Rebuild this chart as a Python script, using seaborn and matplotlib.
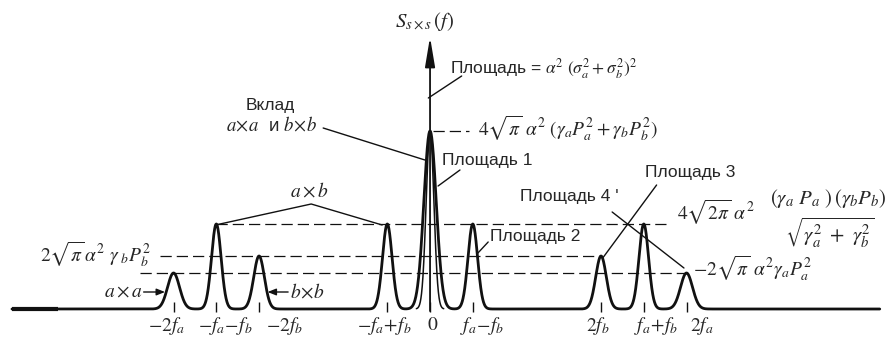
import numpy as np
import matplotlib
matplotlib.use("Agg")
import matplotlib.pyplot as plt
import seaborn as sns

sns.set_theme(style="white")
plt.rcParams["font.family"] = ["Liberation Sans", "DejaVu Sans"]
plt.rcParams["mathtext.fontset"] = "stix"

# carrier frequencies (arbitrary units)
fa, fb = 1.5, 1.0

# spectral lines of the squared signal: centre, peak height, Gaussian width
line_names = ["-2fa", "-fa-fb", "-2fb", "-fa+fb", "fa-fb", "2fb", "fa+fb", "2fa"]
line_centres = [-2 * fa, -fa - fb, -2 * fb, -fa + fb, fa - fb, 2 * fb, fa + fb, 2 * fa]
line_heights = [0.36, 0.85, 0.53, 0.85, 0.85, 0.53, 0.85, 0.36]
line_widths = [0.070, 0.056, 0.062, 0.056, 0.056, 0.062, 0.056, 0.070]

# component at zero frequency (a x a and b x b together)
dc_height = 1.78
dc_width_outer = 0.072
dc_width_inner = 0.045

# reference levels
h_aa, h_bb, h_ab = 0.36, 0.53, 0.85

# frequency-axis labels and their positions
tick_labels = [r"$-2f_a$", r"$-f_a\!-\!f_b$", r"$-2f_b$", r"$-f_a\!+\!f_b$", r"$0$",
               r"$f_a\!-\!f_b$", r"$2f_b$", r"$f_a\!+\!f_b$", r"$2f_a$"]
tick_label_x = [-3.08, -2.40, -1.70, -0.53, 0.03, 0.61, 1.96, 2.65, 3.18]

f = np.linspace(-4.89, 5.26, 6000)


def gauss(x, c, h, w):
    return h * np.exp(-0.5 * ((x - c) / w) ** 2)


S = gauss(f, 0.0, dc_height, dc_width_outer)
for c, h, w in zip(line_centres, line_heights, line_widths):
    S = S + gauss(f, c, h, w)

fig = plt.figure(figsize=(8.9, 3.37), dpi=100)
ax = fig.add_axes([0, 0, 1, 1])
ax.set_xlim(-5.03, 5.38)
ax.set_ylim(-0.28, 3.09)
ax.axis("off")

ink = "#111111"

# spectrum curve
sns.lineplot(x=f, y=S, ax=ax, color=ink, lw=2.0, estimator=None, sort=False)
# thicker start of the baseline
ax.plot([-4.89, -4.35], [0, 0], color=ink, lw=3.0, solid_capstyle="butt")
# inner outline of the zero-frequency spike
fi = np.linspace(-0.16, 0.16, 400)
sns.lineplot(x=fi, y=gauss(fi, 0.0, dc_height, dc_width_inner), ax=ax,
             color=ink, lw=1.1, estimator=None, sort=False)

# small ticks under each line
ax.vlines(line_centres + [0.0], -0.03, 0.07, color=ink, lw=1.0)

# vertical axis with arrow
ax.annotate("", xy=(0, 2.72), xytext=(0, -0.02),
            arrowprops=dict(arrowstyle="-|>,head_length=1.2,head_width=0.2",
                            mutation_scale=15, color=ink, lw=1.3,
                            shrinkA=0, shrinkB=0))
ax.text(-0.41, 2.88, r"$S_{s\times s}\,(f)$", fontsize=15, ha="left", va="center")

# dashed reference levels
dash = (0, (9, 4))
ax.hlines(h_ab, -fa - fb, 2.81, color=ink, lw=0.9, linestyles=[dash])
ax.hlines(h_bb, -3.16, 2 * fb, color=ink, lw=0.9, linestyles=[dash])
ax.hlines(h_aa, -3.39, 3.04, color=ink, lw=0.9, linestyles=[dash])
ax.hlines(dc_height, 0.03, 0.46, color=ink, lw=0.9, linestyles=[dash])

ts = 12.5   # plain text size
ms = 14     # formula size

# total area label
ax.plot([-0.02, 0.37], [2.11, 2.33], color=ink, lw=1.0)
ax.text(0.23, 2.40, r"Площадь = $\alpha^2\ (\sigma_a^2 + \sigma_b^2)^2$",
        fontsize=ts, ha="left", va="center")

# peak level at zero
ax.text(0.56, 1.81, r"$4\sqrt{\pi}\ \alpha^2\ (\gamma_a P_a^2 + \gamma_b P_b^2)$",
        fontsize=ms, ha="left", va="center")

# area 1
ax.plot([0.094, 0.35], [1.23, 1.39], color=ink, lw=1.0)
ax.text(0.14, 1.49, "Площадь 1", fontsize=ts, ha="left", va="center")

# contribution label
ax.text(-1.87, 2.04, "Вклад", fontsize=ts, ha="center", va="center")
ax.text(-1.86, 1.84, r"$a\!\times\! a$  и $b\!\times\! b$", fontsize=ts + 1,
        ha="center", va="center")
ax.plot([-1.25, -0.06], [1.81, 1.49], color=ink, lw=1.0)

# a x b label
ax.text(-1.415, 1.18, r"$a\times b$", fontsize=ms, ha="center", va="center")
ax.plot([-2.51, -1.39, -0.56], [0.84, 1.05, 0.84], color=ink, lw=1.0)

# cross-term level
ax.text(2.89, 0.97, r"$4\sqrt{2\pi}\ \alpha^2$", fontsize=ms, ha="left", va="center")
ax.text(4.66, 1.10, r"$(\gamma_a\ P_a\ )\,(\gamma_b P_b)$", fontsize=ms + 1,
        ha="center", va="center")
ax.text(4.68, 0.76, r"$\sqrt{\gamma_a^2\ +\ \gamma_b^2}$", fontsize=ms + 1,
        ha="center", va="center")

# areas 3 and 4
ax.text(2.51, 1.37, "Площадь 3", fontsize=ts, ha="left", va="center")
ax.plot([2.65, 2.02], [1.24, 0.51], color=ink, lw=1.0)
ax.text(1.05, 1.12, "Площадь 4 '", fontsize=ts, ha="left", va="center")
ax.plot([2.13, 2.97], [0.97, 0.41], color=ink, lw=1.0)

# area 2
ax.text(0.70, 0.72, "Площадь 2", fontsize=ts, ha="left", va="center")
ax.plot([0.56, 0.68], [0.56, 0.67], color=ink, lw=1.0)

# side levels
ax.text(-4.56, 0.55, r"$2\sqrt{\pi}\,\alpha^2\ \gamma_{\ b}P_b^2$", fontsize=ms,
        ha="left", va="center")
ax.text(3.08, 0.41, r"$-2\sqrt{\pi}\ \alpha^2\gamma_a P_a^2$", fontsize=ms,
        ha="left", va="center")

# a x a and b x b pointers
ax.text(-3.36, 0.17, r"$a\times a$", fontsize=ms, ha="right", va="center")
ax.annotate("", xy=(-3.10, 0.17), xytext=(-3.35, 0.17),
            arrowprops=dict(arrowstyle="-|>,head_length=0.5,head_width=0.2",
                            mutation_scale=10, color=ink, lw=1.0,
                            shrinkA=0, shrinkB=0))
ax.text(-1.64, 0.17, r"$b\!\times\! b$", fontsize=ms, ha="left", va="center")
ax.annotate("", xy=(-1.90, 0.17), xytext=(-1.66, 0.17),
            arrowprops=dict(arrowstyle="-|>,head_length=0.5,head_width=0.2",
                            mutation_scale=10, color=ink, lw=1.0,
                            shrinkA=0, shrinkB=0))

# frequency labels
for lab, x in zip(tick_labels, tick_label_x):
    ax.text(x, -0.17, lab, fontsize=ms, ha="center", va="center")

fig.savefig("out.png", dpi=100, facecolor="white")
